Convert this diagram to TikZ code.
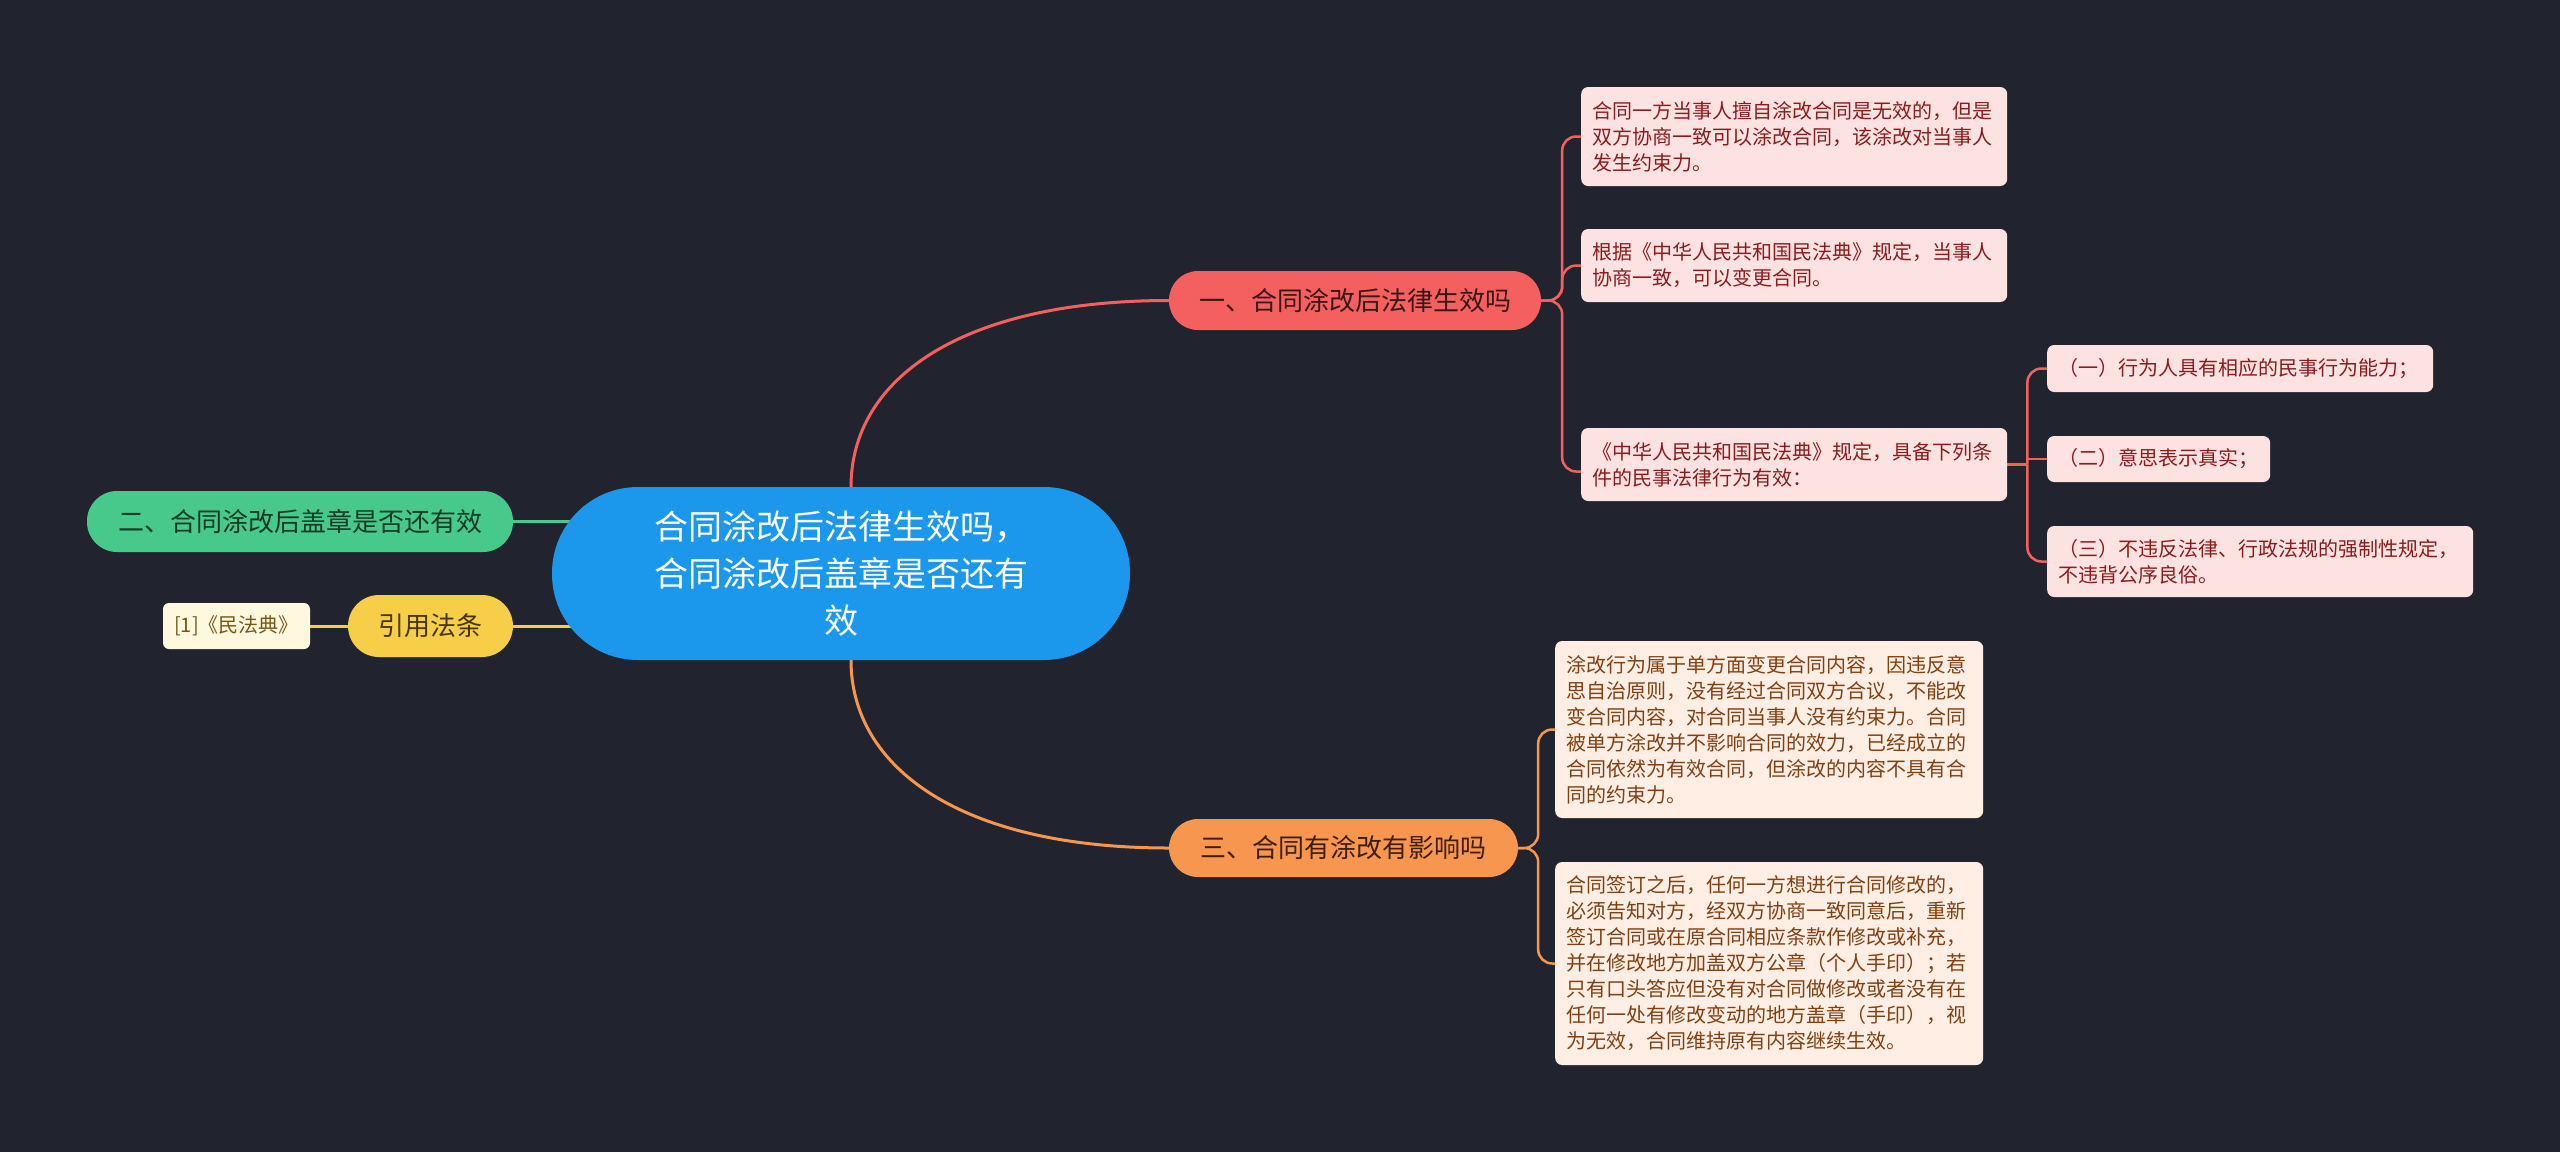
\documentclass[tikz,border=0pt]{standalone}
\usepackage{fontspec}
\setmainfont{Noto Sans CJK SC}
\definecolor{bgc}{RGB}{33,36,47}
\definecolor{cblue}{RGB}{27,151,236}
\definecolor{bred}{RGB}{244,96,96}
\definecolor{bredtxt}{RGB}{58,22,22}
\definecolor{borange}{RGB}{247,150,78}
\definecolor{borangetxt}{RGB}{62,30,8}
\definecolor{bgreen}{RGB}{72,201,140}
\definecolor{bgreentxt}{RGB}{20,58,36}
\definecolor{byellow}{RGB}{246,206,72}
\definecolor{byellowtxt}{RGB}{70,52,6}
\definecolor{lpink}{RGB}{253,226,226}
\definecolor{lpinktxt}{RGB}{138,28,28}
\definecolor{lpeach}{RGB}{254,238,227}
\definecolor{lpeachtxt}{RGB}{128,64,18}
\definecolor{lcream}{RGB}{253,248,222}
\definecolor{lcreamtxt}{RGB}{118,88,20}
\pgfdeclarelayer{back}
\pgfdeclarelayer{bg}
\pgfsetlayers{back,bg,main}
\tikzset{
  branchbox/.style={rounded corners=29, inner sep=0pt, font=\fontsize{26}{32}\selectfont},
  leafbox/.style={rounded corners=7, inner xsep=11pt, inner ysep=0pt, align=left, anchor=west, font=\fontsize{20}{26}\selectfont},
  pinkleaf/.style={leafbox, fill=lpink, text=lpinktxt},
  peachleaf/.style={leafbox, fill=lpeach, text=lpeachtxt},
  mainline/.style={line width=3pt},
  leafline/.style={line width=2.5pt, rounded corners=14pt},
}
\begin{document}
\begin{tikzpicture}[x=1pt,y=-1pt]
\useasboundingbox (0,0) rectangle (2560,1152);
\begin{pgfonlayer}{back}
\fill[bgc] (0,0) rectangle (2560,1152);
\end{pgfonlayer}

% central
\node[fill=cblue, text=white, rounded corners=86, minimum width=578, minimum height=173, inner sep=0pt,
      align=center, font=\fontsize{34}{47}\selectfont] (c) at (841,573.5)
  {合同涂改后法律生效吗，\\合同涂改后盖章是否还有\\效};

% branches
\node[branchbox, fill=bred, text=bredtxt, minimum width=372, minimum height=59] (b1) at (1355,300.5) {一、合同涂改后法律生效吗};
\node[branchbox, fill=borange, text=borangetxt, minimum width=349, minimum height=58] (b3) at (1343.5,848) {三、合同有涂改有影响吗};
\node[branchbox, fill=bgreen, text=bgreentxt, minimum width=426, minimum height=61, rounded corners=30] (b2) at (300,521.5) {二、合同涂改后盖章是否还有效};
\node[branchbox, fill=byellow, text=byellowtxt, minimum width=165, minimum height=62, rounded corners=31] (yl) at (430.5,626) {引用法条};
\node[fill=lcream, text=lcreamtxt, rounded corners=6, minimum width=147, minimum height=46, inner sep=0pt,
      font=\fontsize{20}{26}\selectfont] (ref) at (236.5,626) {[1]《民法典》};

% leaves of branch 1
\node[pinkleaf, text width=404, minimum height=99] (L1) at (1581,136.5)
  {合同一方当事人擅自涂改合同是无效的，但是\\双方协商一致可以涂改合同，该涂改对当事人\\发生约束力。};
\node[pinkleaf, text width=404, minimum height=73] (L2) at (1581,265.5)
  {根据《中华人民共和国民法典》规定，当事人\\协商一致，可以变更合同。};
\node[pinkleaf, text width=404, minimum height=73] (L3) at (1581,464.5)
  {《中华人民共和国民法典》规定，具备下列条\\件的民事法律行为有效：};
\node[pinkleaf, text width=364, minimum height=47] (S1) at (2047,368.5)
  {（一）行为人具有相应的民事行为能力；};
\node[pinkleaf, text width=201, minimum height=46] (S2) at (2047,459)
  {（二）意思表示真实；};
\node[pinkleaf, text width=404, minimum height=71] (S3) at (2047,561.5)
  {（三）不违反法律、行政法规的强制性规定，\\不违背公序良俗。};

% leaves of branch 3
\node[peachleaf, text width=406, minimum height=177] (O1) at (1555,729.5)
  {涂改行为属于单方面变更合同内容，因违反意\\思自治原则，没有经过合同双方合议，不能改\\变合同内容，对合同当事人没有约束力。合同\\被单方涂改并不影响合同的效力，已经成立的\\合同依然为有效合同，但涂改的内容不具有合\\同的约束力。};
\node[peachleaf, text width=406, minimum height=203] (O2) at (1555,963.5)
  {合同签订之后，任何一方想进行合同修改的，\\必须告知对方，经双方协商一致同意后，重新\\签订合同或在原合同相应条款作修改或补充，\\并在修改地方加盖双方公章（个人手印）；若\\只有口头答应但没有对合同做修改或者没有在\\任何一处有修改变动的地方盖章（手印），视\\为无效，合同维持原有内容继续生效。};

\coordinate (j1) at ([xshift=21]b1.east);
\coordinate (j2) at ([xshift=20]L3.east);
\coordinate (j3) at ([xshift=20]b3.east);

\begin{pgfonlayer}{bg}
  \draw[mainline, bred] ([xshift=10]c.north) .. controls +(0,-107) and +(-209,0) .. (b1.west);
  \draw[mainline, borange] ([xshift=10]c.south) .. controls +(0,107) and +(-209,0) .. (b3.west);
  \draw[mainline, bgreen] (b2.east) -- (b2.east -| c.center);
  \draw[mainline, byellow] (yl.east) -- (yl.east -| c.center);
  \draw[mainline, byellow] (ref.east) -- (yl.west);
  \draw[leafline, bred] (b1.east) -- (j1) |- (L1.west);
  \draw[leafline, bred] (b1.east) -- (j1) |- (L2.west);
  \draw[leafline, bred] (b1.east) -- (j1) |- ([yshift=-7]L3.west);
  \draw[leafline, bred] (L3.east) -- (j2);
  \draw[leafline, bred] (j2) |- (S1.west);
  \draw[leafline, bred] (j2) |- (S3.west);
  \draw[leafline, bred] (j2 |- S2.west) -- (S2.west);
  \draw[leafline, borange] (b3.east) -- (j3) |- (O1.west);
  \draw[leafline, borange] (b3.east) -- (j3) |- (O2.west);
\end{pgfonlayer}
\end{tikzpicture}
\end{document}
